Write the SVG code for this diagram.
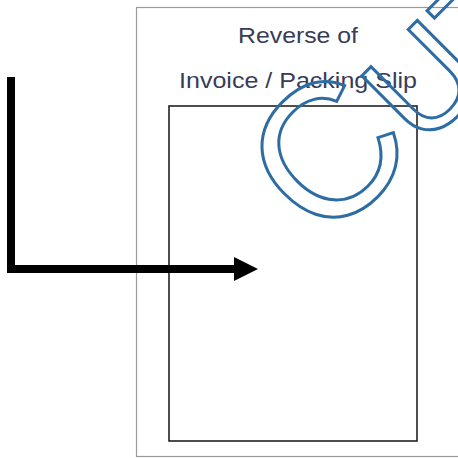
<svg xmlns="http://www.w3.org/2000/svg" width="458" height="458" viewBox="0 0 458 458">
  <style>
    .page { fill: #ffffff; stroke: #9a9a9a; stroke-width: 1.2; }
    .box { fill: none; stroke: #222222; stroke-width: 1.6; }
    .title { font-family: "Liberation Sans", Arial, sans-serif; font-size: 22px; fill: #383c58; text-anchor: middle; }
    .cut { font-family: "Liberation Sans", Arial, sans-serif; fill: none; stroke: #2e6da4; stroke-width: 3; stroke-linejoin: miter; }
    .arrow { fill: none; stroke: #000000; stroke-width: 8; stroke-linejoin: miter; stroke-linecap: butt; }
  </style>
  <defs>
    <marker id="head" markerUnits="userSpaceOnUse" markerWidth="26" markerHeight="26" refX="2" refY="13" orient="auto">
      <polygon points="0,1 24,13 0,25" fill="#000000"/>
    </marker>
  </defs>
  <rect width="458" height="458" fill="#ffffff"/>
  <g id="page">
    <rect class="page" x="136.5" y="7.5" width="340" height="449"/>
  </g>
  <g id="title">
    <text class="title" x="298" y="43" textLength="120" lengthAdjust="spacingAndGlyphs">Reverse of</text>
    <text class="title" x="298" y="88" textLength="238" lengthAdjust="spacingAndGlyphs">Invoice / Packing Slip</text>
  </g>
  <g id="inner-box">
    <rect class="box" x="169" y="106" width="248" height="335"/>
  </g>
  <g id="connectors">
    <path class="arrow" d="M11,77 V269 H236" marker-end="url(#head)"/>
  </g>
  <g id="watermark">
    <text class="cut" transform="translate(324.5,247.5) rotate(-45)"><tspan style="font-size:190px">C</tspan><tspan style="font-size:138px">UT</tspan></text>
  </g>
</svg>
